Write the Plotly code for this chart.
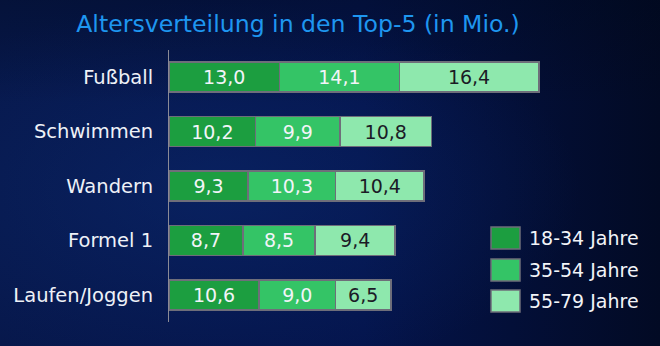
import base64
import plotly.graph_objects as go

# ---- data ----
categories = ["Fußball", "Schwimmen", "Wandern", "Formel 1", "Laufen/Joggen"]
series_names = ["18-34 Jahre", "35-54 Jahre", "55-79 Jahre"]
age_18_34 = [13.0, 10.2, 9.3, 8.7, 10.6]
age_35_54 = [14.1, 9.9, 10.3, 8.5, 9.0]
age_55_79 = [16.4, 10.8, 10.4, 9.4, 6.5]
title_text = "Altersverteilung in den Top-5 (in Mio.)"

# ---- style ----
W, H = 660, 346
L, R, T, B = 169, 110, 50, 24
PX_PER_UNIT = 8.5
plot_w = W - L - R
plot_h = H - T - B
colors = ["#1c9e40", "#34c466", "#8ee8ad"]
text_colors = ["#f2f4f8", "#f2f4f8", "#1b1b26"]
border = "#6e6e7a"
FONT = "DejaVu Sans"

series = [age_18_34, age_35_54, age_55_79]

fig = go.Figure()
for name, vals, c, tc in zip(series_names, series, colors, text_colors):
    fig.add_trace(go.Bar(
        y=categories, x=vals, name=name, orientation="h",
        marker=dict(color=c, line=dict(color=border, width=1.5)),
        texttemplate="%{x:.1f}", textposition="inside",
        insidetextanchor="middle", textangle=0,
        textfont=dict(family=FONT, size=19, color=tc),
        showlegend=False, hoverinfo="skip",
    ))

# background gradient (SVG data URI)
svg = f'''<svg xmlns="http://www.w3.org/2000/svg" width="{W}" height="{H}">
<defs>
<linearGradient id="lg" x1="0" y1="0" x2="1" y2="0">
<stop offset="0" stop-color="#07184c"/>
<stop offset="0.55" stop-color="#04144c"/>
<stop offset="1" stop-color="#020a24"/>
</linearGradient>
<radialGradient id="rg" cx="0.33" cy="0.55" r="0.55">
<stop offset="0" stop-color="#0d2f78" stop-opacity="0.45"/>
<stop offset="1" stop-color="#0d2f78" stop-opacity="0"/>
</radialGradient>
<linearGradient id="tg" x1="0" y1="0" x2="0" y2="1">
<stop offset="0" stop-color="#000818" stop-opacity="0.35"/>
<stop offset="0.3" stop-color="#000818" stop-opacity="0"/>
</linearGradient>
</defs>
<rect width="{W}" height="{H}" fill="url(#lg)"/>
<rect width="{W}" height="{H}" fill="url(#rg)"/>
<rect width="{W}" height="{H}" fill="url(#tg)"/>
</svg>'''
src = "data:image/svg+xml;base64," + base64.b64encode(svg.encode()).decode()

# manual legend
shapes = []
annotations = []
leg_x0, leg_x1 = 491, 520
leg_rows = [238, 270, 301]
for name, c, yc in zip(series_names, colors, leg_rows):
    px0 = (leg_x0 - L) / plot_w
    px1 = (leg_x1 - L) / plot_w
    py0 = (H - B - (yc + 11)) / plot_h
    py1 = (H - B - (yc - 11)) / plot_h
    shapes.append(dict(type="rect", xref="paper", yref="paper",
                       x0=px0, x1=px1, y0=py0, y1=py1,
                       fillcolor=c, line=dict(color=border, width=1.5)))
    annotations.append(dict(xref="paper", yref="paper",
                            x=(527 - L) / plot_w, y=(H - B - yc) / plot_h,
                            xanchor="left", yanchor="middle", showarrow=False,
                            text=name, font=dict(family=FONT, size=19, color="#f2f4f8")))

fig.update_layout(
    width=W, height=H,
    margin=dict(l=L, r=R, t=T, b=B, pad=0),
    barmode="stack", bargap=0.45,
    separators=",.",
    paper_bgcolor="#041550", plot_bgcolor="rgba(0,0,0,0)",
    images=[dict(source=src, xref="paper", yref="paper", x=-L / plot_w, y=1 + T / plot_h,
                 sizex=W / plot_w, sizey=H / plot_h, xanchor="left", yanchor="top",
                 sizing="stretch", layer="below")],
    title=dict(text=title_text, xref="container", yref="container",
               x=298 / W, y=1 - 24 / H, xanchor="center", yanchor="middle",
               font=dict(family=FONT, size=23.6, color="#1e96f0")),
    xaxis=dict(range=[0, plot_w / PX_PER_UNIT], visible=False, fixedrange=True),
    yaxis=dict(autorange="reversed", showline=True, linecolor="#8a8a96", linewidth=1,
               showgrid=False, zeroline=False, ticks="", ticklabelstandoff=11,
               tickfont=dict(family=FONT, size=19.5, color="#eef1f7")),
    shapes=shapes, annotations=annotations,
    font=dict(family=FONT),
)

fig.write_html("out.html")
